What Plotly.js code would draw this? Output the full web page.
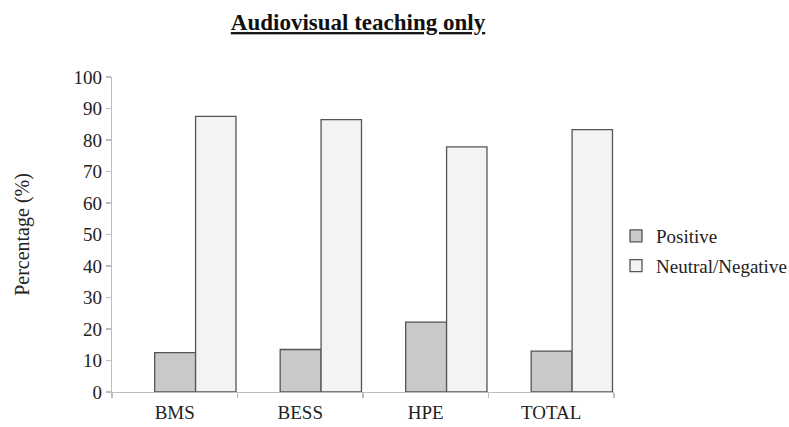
<!DOCTYPE html>
<html>
<head>
<meta charset="utf-8">
<script src="https://cdn.plot.ly/plotly-3.0.1.min.js"></script>
<style>html,body{margin:0;padding:0;background:#fff;}#chart{width:789px;height:427px;}</style>
</head>
<body>
<div id="chart"></div>
<script>
const categories = ["BMS", "BESS", "HPE", "TOTAL"];
const positive = [12.5, 13.5, 22.2, 13.0];
const neutralNegative = [87.5, 86.5, 77.8, 83.3];
const seriesNames = ["Positive", "Neutral/Negative"];
const yTicks = [0, 10, 20, 30, 40, 50, 60, 70, 80, 90, 100];

const FONT = "'Liberation Serif', 'Times New Roman', serif";

const traces = [
  {
    type: "bar", name: seriesNames[0], x: categories, y: positive,
    offset: -0.16, width: 0.326, legendgroup: "a",
    marker: {color: "#c9c9c9", line: {color: "#555555", width: 1.3}},
    hoverinfo: "skip"
  },
  {
    type: "bar", name: seriesNames[1], x: categories, y: neutralNegative,
    offset: 0.166, width: 0.322, legendgroup: "b",
    marker: {color: "#f3f3f3", line: {color: "#555555", width: 1.3}},
    hoverinfo: "skip"
  }
];

const layout = {
  width: 789, height: 427,
  paper_bgcolor: "#ffffff", plot_bgcolor: "#ffffff",
  margin: {l: 112, r: 175, t: 77, b: 35, pad: 0},
  barmode: "overlay",
  font: {family: FONT, size: 19, color: "#222222"},
  title: {
    text: "Audiovisual teaching only",
    font: {family: FONT, size: 23, color: "#111111", weight: "bold", lineposition: "under"},
    x: 358 / 789, xref: "container", xanchor: "center",
    y: 1 - 22 / 427, yref: "container", yanchor: "middle"
  },
  xaxis: {
    type: "category", range: [-0.5, 3.5],
    showline: true, linecolor: "#bdbdbd", linewidth: 1.3,
    ticks: "outside", tickson: "boundaries", ticklen: 5, tickcolor: "#bdbdbd", tickwidth: 1.3,
    showgrid: false, zeroline: false, ticklabelstandoff: 3,
    tickfont: {family: FONT, size: 19, color: "#222222"}
  },
  yaxis: {
    range: [0, 100], tickvals: yTicks,
    showline: true, linecolor: "#bdbdbd", linewidth: 1.3,
    ticks: "outside", ticklen: 5, tickcolor: "#bdbdbd", tickwidth: 1.3,
    showgrid: false, zeroline: false,
    tickfont: {family: FONT, size: 19, color: "#222222"},
    title: {text: "Percentage (%)", font: {family: FONT, size: 20, color: "#222222"}, standoff: 38}
  },
  showlegend: true,
  legend: {
    x: 616 / 789, xref: "container", xanchor: "left",
    y: 1 - 217 / 427, yref: "container", yanchor: "top",
    font: {family: FONT, size: 19, color: "#222222"},
    bgcolor: "rgba(0,0,0,0)", borderwidth: 0,
    tracegroupgap: 2, itemwidth: 30
  }
};

Plotly.newPlot("chart", traces, layout, {displayModeBar: false, staticPlot: true});
</script>
</body>
</html>
